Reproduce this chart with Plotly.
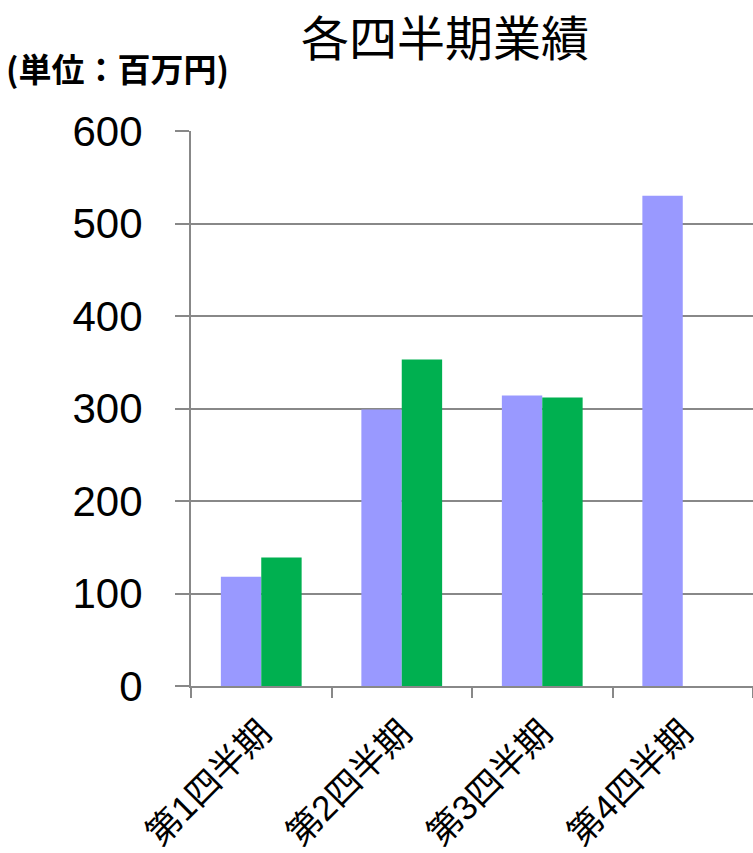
import plotly.graph_objects as go

categories = ["第1四半期", "第2四半期", "第3四半期", "第4四半期"]
series_a = [118, 299, 314, 530]
series_b = [139, 353, 312, None]
y_ticks = [0, 100, 200, 300, 400, 500, 600]

title_text = "各四半期業績"
unit_text = "(単位：百万円)"

GRID = "#888888"
W, H = 753, 853
l, t = 191, 131
pw = 562
r = W - l - pw
b = H - 686
ph = H - t - b


def px_to_paper(x, y):
    return (x - l) / pw, 1 - (y - t) / ph


fig = go.Figure()
fig.add_trace(go.Bar(x=categories, y=series_a, marker=dict(color="#9999FF", line=dict(width=0)), name="A"))
fig.add_trace(go.Bar(x=categories, y=series_b, marker=dict(color="#00B050", line=dict(width=0)), name="B"))

ux, uy = px_to_paper(4, 68)

fig.update_layout(
    width=W, height=H,
    margin=dict(l=l, r=r, t=t, b=b, autoexpand=False),
    paper_bgcolor="white", plot_bgcolor="white",
    barmode="group", bargap=0.425, bargroupgap=0,
    showlegend=False,
    font=dict(family="Liberation Sans, Noto Sans CJK JP, sans-serif", color="black"),
    title=dict(text=title_text, x=445 / W, xanchor="center", xref="container",
               y=1 - 39 / H, yanchor="middle", yref="container",
               font=dict(size=48, family="Noto Sans CJK JP, sans-serif", color="black")),
    annotations=[
        dict(text="<b>" + unit_text + "</b>", x=ux, y=uy, xref="paper", yref="paper", showarrow=False,
             font=dict(size=33, family="Noto Sans CJK JP, sans-serif", color="black"),
             xanchor="left", yanchor="middle"),
    ],
)

fig.update_xaxes(
    type="category", range=[-0.5, 3.5], automargin=False,
    showline=True, linecolor=GRID, linewidth=2,
    ticks="outside", tickson="boundaries", ticklen=10, tickcolor=GRID, tickwidth=2,
    tickangle=-45, tickfont=dict(size=35, family="Liberation Sans, Noto Sans CJK JP, sans-serif"),
    ticklabelstandoff=10,
    showgrid=False,
)
fig.update_yaxes(
    range=[0, 600], tickvals=y_ticks, ticktext=[str(v) for v in y_ticks], automargin=False,
    showline=True, linecolor=GRID, linewidth=2,
    ticks="outside", ticklen=14, tickcolor=GRID, tickwidth=2,
    showgrid=True, gridcolor=GRID, gridwidth=2, zeroline=False,
    tickfont=dict(size=42, family="Liberation Sans, Arial, sans-serif"),
    ticklabelstandoff=24,
)

fig.write_html("out.html", config={"displayModeBar": False},
               post_script="document.body.style.margin='0';")
